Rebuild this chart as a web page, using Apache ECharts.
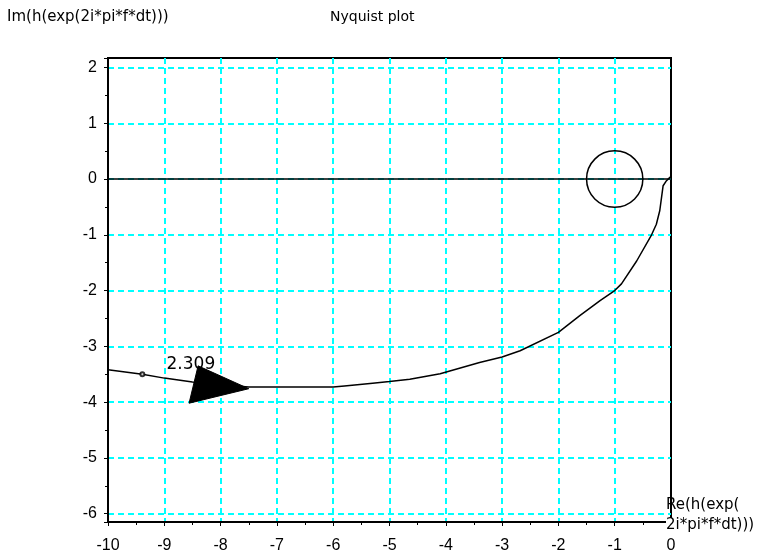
<!DOCTYPE html>
<html>
<head>
<meta charset="utf-8">
<script src="https://cdn.jsdelivr.net/npm/echarts@6/dist/echarts.min.js"></script>
<style>html,body{margin:0;padding:0;background:#fff}#c{width:771px;height:554px}</style>
</head>
<body>
<div id="c"></div>
<script>
// Nyquist curve (Re, Im)
const curveRe = [-10, -9.39, -9, -8.5, -8, -7.5, -7, -6.5, -6, -5.8, -5.3, -5, -4.64, -4.1, -3.4, -3, -2.68, -2, -1.62, -1.26, -1, -0.88, -0.61, -0.345, -0.26, -0.2, -0.14, -0.08, -0.02, 0];
const curveIm = [-3.42, -3.5, -3.57, -3.64, -3.69, -3.73, -3.73, -3.73, -3.73, -3.71, -3.66, -3.63, -3.59, -3.49, -3.29, -3.19, -3.08, -2.75, -2.45, -2.18, -2.0, -1.88, -1.47, -1.0, -0.81, -0.57, -0.12, -0.03, 0.03, 0.03];
// arrow head triangle vertices
const arrowRe = [-7.5, -8.4, -8.56];
const arrowIm = [-3.76, -3.35, -4.02];
const arrowLabel = '2.309';
const arrowLabelPos = [-8.96, -3.33];
// small marker on the curve
const markerPos = [-9.39, -3.5];
// critical point circle: center and radius
const circleCenter = [-1, 0];
const circleRadius = 0.5;
// axes
const xMin = -10, xMax = 0;
const yMin = -6.15, yMax = 2.17;

const chart = echarts.init(document.getElementById('c'));
const font = 'Liberation Sans, Arial, sans-serif';
const grid = { color: '#00ffff', type: [6, 4], width: 2 };
chart.setOption({
  animation: false,
  backgroundColor: '#fff',
  grid: { left: 108, right: 100, top: 58, bottom: 32, show: true, borderColor: '#000', borderWidth: 2, backgroundColor: 'transparent' },
  graphic: [
    { type: 'text', left: 7, top: 10, style: { text: 'Im(h(exp(2i*pi*f*dt)))', font: '15px DejaVu Sans', fill: '#000' } },
    { type: 'text', left: 330, top: 10, style: { text: 'Nyquist plot', font: '14px DejaVu Sans', fill: '#000' } },
    { type: 'text', left: 666, top: 498, z: 100, style: { text: 'Re(h(exp(', font: '15px DejaVu Sans', fill: '#000' } },
    { type: 'text', left: 666, top: 518, z: 100, style: { text: '2i*pi*f*dt)))', font: '15px DejaVu Sans', fill: '#000', backgroundColor: '#fff' } }
  ],
  xAxis: {
    type: 'value', min: xMin, max: xMax, interval: 1,
    axisLine: { onZero: false, lineStyle: { color: '#000', width: 2 } },
    axisTick: { show: true, length: 4, lineStyle: { color: '#000' } },
    minorTick: { show: true, splitNumber: 2, length: 3, lineStyle: { color: '#000' } },
    axisLabel: { color: '#000', fontSize: 16, fontFamily: font, margin: 16 },
    splitLine: { show: true, showMinLine: false, showMaxLine: false, lineStyle: grid }
  },
  yAxis: {
    type: 'value', min: yMin, max: yMax, splitNumber: 8, minInterval: 1, maxInterval: 1,
    axisLine: { show: true, onZero: false, lineStyle: { color: '#000', width: 2 } },
    axisTick: { show: true, length: 4, lineStyle: { color: '#000' } },
    minorTick: { show: true, splitNumber: 2, length: 3, lineStyle: { color: '#000' } },
    axisLabel: { color: '#000', fontSize: 16, fontFamily: font, margin: 11,
      formatter: v => (Math.abs(v - Math.round(v)) < 1e-9 ? String(Math.round(v)) : '') },
    splitLine: { show: true, showMinLine: false, showMaxLine: false, lineStyle: grid }
  },
  series: [
    {
      type: 'line', data: curveRe.map((x, i) => [x, curveIm[i]]), showSymbol: false, smooth: false,
      lineStyle: { color: '#000', width: 1.5 }, clip: true, z: 5,
      markLine: { silent: true, symbol: 'none', label: { show: false }, lineStyle: { color: '#000', type: 'solid', width: 1.5 },
        data: [{ yAxis: 0 }] }
    },
    {
      type: 'scatter', data: [markerPos], symbol: 'emptyCircle', symbolSize: 4,
      itemStyle: { color: '#000', borderColor: '#000', borderWidth: 1 }, z: 6
    },
    {
      type: 'custom', data: [[circleCenter[0], circleCenter[1], circleRadius]], z: 6,
      renderItem: (params, api) => {
        const c = api.coord([api.value(0), api.value(1)]);
        const r = api.size([api.value(2), 0])[0];
        return { type: 'circle', shape: { cx: c[0], cy: c[1], r: r }, style: { fill: 'none', stroke: '#000', lineWidth: 1.5 } };
      }
    },
    {
      type: 'custom', data: [[arrowRe[0], arrowIm[0]]], z: 7,
      renderItem: (params, api) => {
        const pts = arrowRe.map((x, i) => api.coord([x, arrowIm[i]]));
        const lp = api.coord(arrowLabelPos);
        return { type: 'group', children: [
          { type: 'polygon', shape: { points: pts }, style: { fill: '#000', stroke: '#000' } },
          { type: 'text', x: lp[0], y: lp[1], style: { text: arrowLabel, fontSize: 17, fontFamily: 'DejaVu Sans', fill: '#000', align: 'left', verticalAlign: 'middle' } }
        ] };
      }
    }
  ]
});
</script>
</body>
</html>
